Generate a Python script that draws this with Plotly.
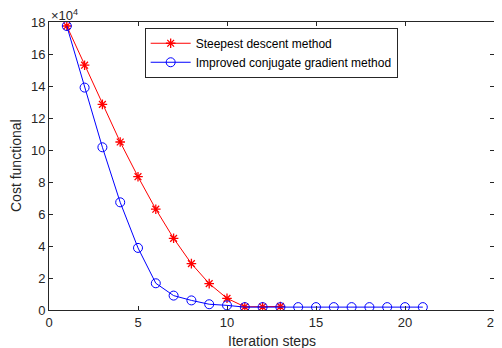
import plotly.graph_objects as go

steps_sd = [1, 2, 3, 4, 5, 6, 7, 8, 9, 10, 11, 12, 13]
cost_sd = [17.75, 15.3, 12.85, 10.5, 8.33, 6.3, 4.48, 2.9, 1.65, 0.73, 0.2, 0.2, 0.22]
steps_cg = list(range(1, 22))
cost_cg = [17.75, 13.9, 10.17, 6.73, 3.88, 1.67, 0.9, 0.6, 0.36, 0.29,
           0.18, 0.18, 0.18, 0.18, 0.18, 0.18, 0.18, 0.18, 0.18, 0.18, 0.18]
x_ticks = [0, 5, 10, 15, 20, 25]
y_ticks = [0, 2, 4, 6, 8, 10, 12, 14, 16, 18]

FONT = "Liberation Sans, Arial"
fig = go.Figure()
fig.add_trace(go.Scatter(
    x=steps_sd, y=cost_sd, mode="lines+markers", name="Steepest descent method",
    line=dict(color="#ff0000", width=1),
    marker=dict(symbol="asterisk-open", size=8, color="#ff0000", line=dict(color="#ff0000", width=1.3)),
))
fig.add_trace(go.Scatter(
    x=steps_cg, y=cost_cg, mode="lines+markers", name="Improved conjugate gradient method",
    line=dict(color="#0000ff", width=1),
    marker=dict(symbol="circle-open", size=9, color="#0000ff", line=dict(color="#0000ff", width=1)),
))

axis_common = dict(
    showline=True, linecolor="#262626", linewidth=1, mirror="ticks",
    ticks="inside", ticklen=4, tickcolor="#262626", showgrid=False, zeroline=False,
    tickfont=dict(family=FONT, size=13, color="#262626"), automargin=False,
)
fig.update_xaxes(range=[0, 25], tickvals=x_ticks, **axis_common)
fig.update_yaxes(range=[0, 18], tickvals=y_ticks, **axis_common)

fig.add_annotation(xref="paper", yref="paper", x=0.5, y=0, xanchor="center", yanchor="top",
                   yshift=-21, text="Iteration steps", showarrow=False,
                   font=dict(family=FONT, size=14, color="#262626"))
fig.add_annotation(xref="paper", yref="paper", x=0, y=0.5, xanchor="right", yanchor="middle",
                   xshift=-23, textangle=-90, text="Cost functional", showarrow=False,
                   font=dict(family=FONT, size=14, color="#262626"))
fig.add_annotation(xref="paper", yref="paper", x=0, y=1, xanchor="left", yanchor="bottom",
                   text="×10<sup>4</sup>", showarrow=False, yshift=-3,
                   font=dict(family=FONT, size=13, color="#262626"))

# The page body has an 8px default margin, so the figure is sized to fit inside it.
fig.update_layout(
    width=494, height=340,
    margin=dict(l=41, r=8, t=14, b=38),
    plot_bgcolor="white", paper_bgcolor="white",
    legend=dict(x=0.215, y=0.98, xanchor="left", yanchor="top",
                bordercolor="#262626", borderwidth=1, bgcolor="white",
                font=dict(family=FONT, size=12, color="#000000"),
                tracegroupgap=0, itemwidth=40),
    showlegend=True,
)
fig.write_html("out.html")
